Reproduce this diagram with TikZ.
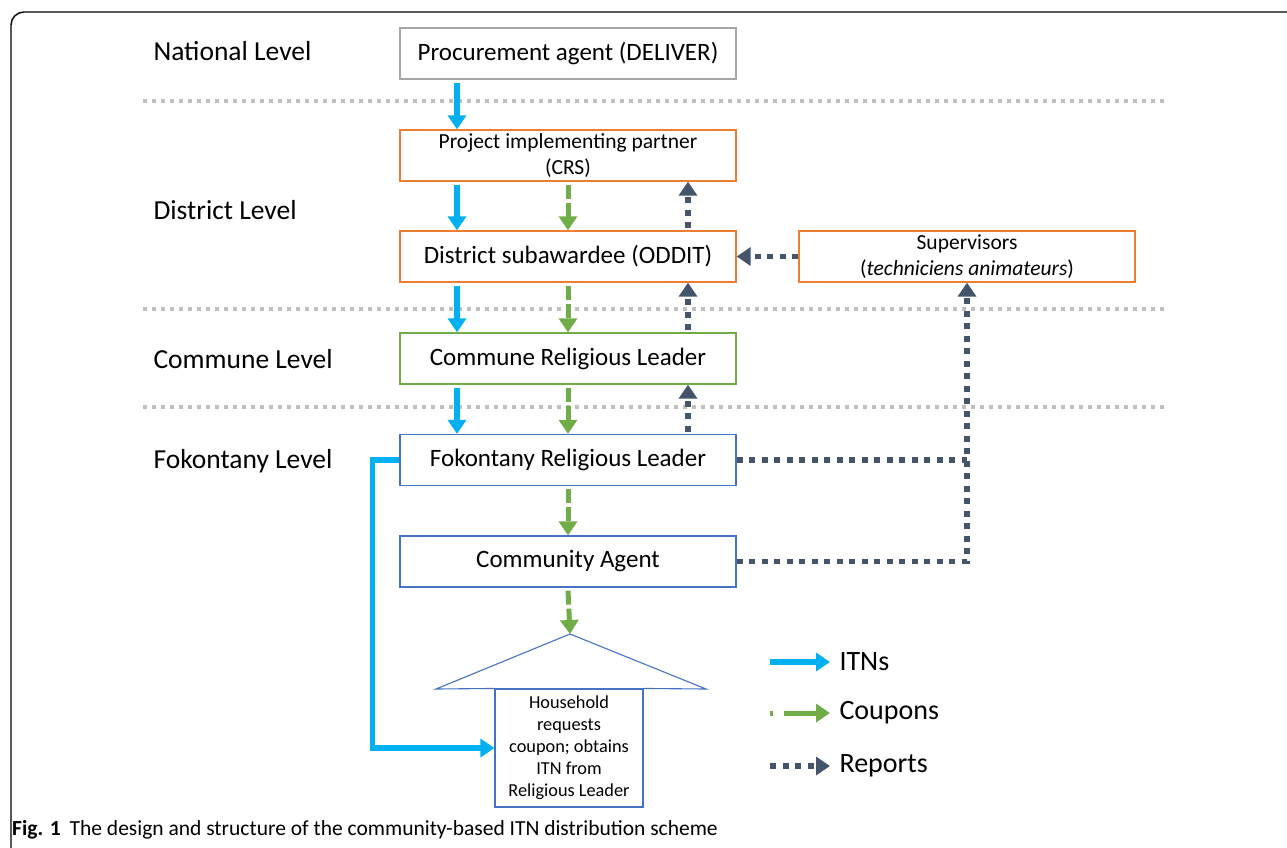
\documentclass[tikz,border=0pt]{standalone}
\usepackage{fontspec}
\setmainfont{Carlito}
\usetikzlibrary{arrows.meta,calc}
\definecolor{itnblue}{HTML}{00B0F0}
\definecolor{cgreen}{HTML}{70AD47}
\definecolor{rdark}{HTML}{44546A}
\definecolor{orangeb}{HTML}{ED7D31}
\definecolor{blueb}{HTML}{4472C4}
\definecolor{grayb}{HTML}{A6A6A6}
\definecolor{sepgray}{HTML}{BFBFBF}
\tikzset{
  box/.style={draw, line width=1.3pt, minimum width=336pt, minimum height=51pt, inner sep=0pt, align=center, font=\fontsize{25}{29}\selectfont},
  smallbox/.style={box, font=\fontsize{21.5}{26}\selectfont},
  lvl/.style={anchor=west, font=\fontsize{27.5}{32}\selectfont},
  sep/.style={sepgray, line width=4pt, dash pattern=on 4pt off 5pt},
  itn/.style={itnblue, line width=5.5pt, -{Triangle[width=18pt,length=14pt]}},
  cpn/.style={cgreen, line width=5pt, dash pattern=on 14pt off 4pt, -{Triangle[width=18pt,length=14pt]}},
  rep/.style={rdark, line width=5.5pt, dash pattern=on 6pt off 6.5pt, -{Triangle[width=18pt,length=14pt]}},
  repl/.style={rdark, line width=5.5pt, dash pattern=on 6pt off 6.5pt},
  leg/.style={anchor=west, font=\fontsize{28}{32}\selectfont}
}
\begin{document}
\begin{tikzpicture}[x=1pt,y=-1pt]
\useasboundingbox (0,0) rectangle (1287,847);
% frame
\draw[line width=1.4pt, rounded corners=13pt] (11,860) -- (11,12) -- (1300,12);
% level labels
\node[lvl] (nat) at (150,51) {National Level};
\node[lvl] (dis) at (150,210) {District Level};
\node[lvl] (com) at (150,359) {Commune Level};
\node[lvl] (fokl) at (150,461) {Fokontany Level};
% separators
\coordinate (s1a) at (143,101); \coordinate (s1b) at (1165,101);
\coordinate (s2a) at (143,309); \coordinate (s2b) at (1165,309);
\coordinate (s3a) at (143,407); \coordinate (s3b) at (1165,407);
\draw[sep] (s1a) -- (s1b);
\draw[sep] (s2a) -- (s2b);
\draw[sep] (s3a) -- (s3b);
% boxes
\node[box, draw=grayb] (proc) at (568,53.5) {Procurement agent (DELIVER)};
\node[smallbox, draw=orangeb] (crs) at (568,155.5) {Project implementing partner\\(CRS)};
\node[box, draw=orangeb] (odd) at (568,256.5) {District subawardee (ODDIT)};
\node[smallbox, draw=orangeb] (sup) at (967,256.5) {Supervisors\\(\textit{techniciens animateurs})};
\node[box, draw=cgreen] (crl) at (568,358.5) {Commune Religious Leader};
\node[box, draw=blueb] (frl) at (568,460) {Fokontany Religious Leader};
\node[box, draw=blueb] (ca) at (568,561.5) {Community Agent};
% household
\node[draw=blueb, line width=1.1pt, minimum width=148pt, minimum height=118pt, inner sep=0pt, align=center, font=\fontsize{18.3}{22}\selectfont] (hh) at (569,748) {Household\\requests\\coupon; obtains\\ITN from\\Religious Leader};
\coordinate (apex) at (570,634);
\draw[blueb, line width=1.1pt] (hh.north west) -- (436,689) -- (apex) -- (706,689) -- (hh.north east);
% column coordinates
\coordinate (bx) at (457,0);
\coordinate (gx) at (568,0);
\coordinate (rx) at (688,0);
% ITN arrows
\draw[itn] ($(proc.south -| bx)+(0,3)$) -- (crs.north -| bx);
\draw[itn] ($(crs.south -| bx)+(0,3)$) -- (odd.north -| bx);
\draw[itn] ($(odd.south -| bx)+(0,3)$) -- (crl.north -| bx);
\draw[itn] ($(crl.south -| bx)+(0,3)$) -- (frl.north -| bx);
\draw[itn] (frl.west) -- ++(-27,0) |- (hh.west);
% coupon arrows
\draw[cpn] ($(crs.south -| gx)+(0,3)$) -- (odd.north -| gx);
\draw[cpn] ($(odd.south -| gx)+(0,3)$) -- (crl.north -| gx);
\draw[cpn] ($(crl.south -| gx)+(0,3)$) -- (frl.north -| gx);
\draw[cpn] ($(frl.south -| gx)+(0,3)$) -- (ca.north -| gx);
\draw[cpn] ($(ca.south -| gx)+(0,3)$) -- (apex);
% report arrows
\draw[rep] ($(odd.north -| rx)+(0,-2)$) -- (crs.south -| rx);
\draw[rep] ($(crl.north -| rx)+(0,-2)$) -- (odd.south -| rx);
\draw[rep] ($(frl.north -| rx)+(0,-2)$) -- (crl.south -| rx);
\draw[rep] (sup.west) -- (odd.east);
\draw[repl] (frl.east) -- (frl.east -| sup.south);
\draw[rep] (ca.east) -| (sup.south);
% legend
\coordinate (l1a) at (770,662); \coordinate (l1b) at (830,662);
\coordinate (l2a) at (770,713); \coordinate (l2b) at (830,713);
\coordinate (l3a) at (770,766); \coordinate (l3b) at (830,766);
\draw[itn] (l1a) -- (l1b);
\draw[cgreen, line width=5pt, dash pattern=on 3pt off 11pt on 50pt, -{Triangle[width=18pt,length=14pt]}] (l2a) -- (l2b);
\draw[rep] (l3a) -- (l3b);
\node[leg] (t1) at (836,662) {ITNs};
\node[leg] (t2) at (836,713) {Coupons};
\node[leg] (t3) at (836,766) {Reports};
% caption
\node[anchor=west, font=\fontsize{21.5}{24}\selectfont, inner sep=0pt] (cap) at (12,830) {\textbf{Fig. 1}\hspace{9pt}The design and structure of the community-based ITN distribution scheme};
\end{tikzpicture}
\end{document}
